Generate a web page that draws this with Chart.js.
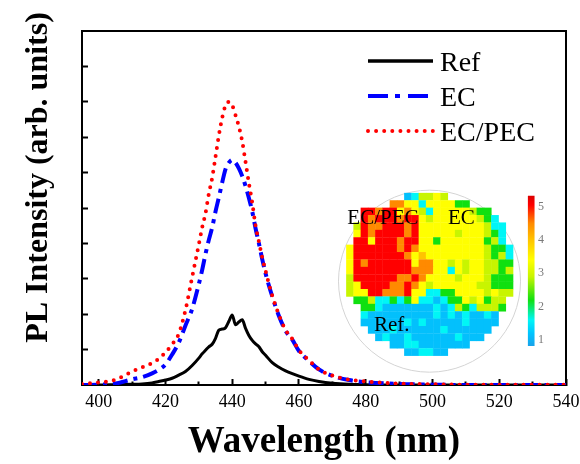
<!DOCTYPE html>
<html><head><meta charset="utf-8">
<script src="https://cdn.jsdelivr.net/npm/chart.js@4.4.1/dist/chart.umd.min.js"></script>
<style>
html,body{margin:0;padding:0;background:#fff;}
#wrap{position:relative;width:580px;height:464px;overflow:hidden;}
#main{position:absolute;left:0;top:0;}
#inset{position:absolute;left:336px;top:185px;}
</style></head><body>
<div id="wrap"><canvas id="main" width="580" height="464"></canvas><canvas id="inset" width="224" height="190"></canvas></div>
<script>
// ---------- spectra ----------
const wavelengths = [395,400,405,410,413,416,418,420,422,424,426,428,430,431,432,433,434,435,436,437,438,439,440,441,442,443,444,445,446,447,448,449,450,452,454,456,458,460,463,466,470,475,480,490,500,510,520,530,540];
const refIntensity = [0.0,0.0,0.01,0.02,0.03,0.06,0.10,0.14,0.19,0.28,0.38,0.55,0.76,0.88,0.98,1.08,1.15,1.32,1.55,1.58,1.62,1.80,1.98,1.70,1.78,1.84,1.60,1.40,1.26,1.16,1.08,0.94,0.84,0.63,0.50,0.40,0.32,0.25,0.16,0.10,0.05,0.02,0.01,0.0,0.0,0.0,0.0,0.0,0.0];
const ecIntensity = [0.0,0.01,0.04,0.16,0.22,0.33,0.43,0.58,0.86,1.20,1.68,2.15,2.85,3.25,3.70,4.10,4.45,4.90,5.30,5.72,6.10,6.28,6.36,6.28,6.12,5.90,5.62,5.28,4.90,4.42,4.00,3.55,3.15,2.50,1.95,1.53,1.28,0.96,0.68,0.44,0.26,0.14,0.08,0.03,0.01,0.0,0.0,0.0,0.0];
const ecpecIntensity = [0.03,0.07,0.15,0.38,0.50,0.62,0.74,0.92,1.15,1.45,2.12,3.05,3.97,4.45,4.85,5.40,5.85,6.45,7.05,7.55,7.90,8.00,7.90,7.62,7.30,6.88,6.30,5.70,5.15,4.50,4.05,3.60,3.22,2.52,1.98,1.55,1.30,0.98,0.70,0.44,0.27,0.15,0.10,0.04,0.02,0.01,0.01,0.01,0.01];
const seriesLabels = ['Ref','EC','EC/PEC'];
const xMajorTicks = [400,420,440,460,480,500,520,540];
const xMinorTicks = [410,430,450,470,490,510,530];
const yTickValues = [1,2,3,4,5,6,7,8,9];

// ---------- wafer map (rows top->bottom, 23 columns) ----------
const R=5.05,O=4.5,A=4.0,Y=3.4,L=2.9,G=2.2,C=1.6,B=1.15,_=null;
const waferMap = [
 [_,_,_,_,_,_,_,_,B,C,L,L,Y,L,_,_,_,_,_,_,_,_,_],
 [_,_,_,_,_,_,O,O,Y,Y,C,Y,Y,Y,Y,G,G,_,_,_,_,_,_],
 [_,_,R,R,O,R,R,Y,O,Y,L,C,Y,Y,Y,Y,Y,L,G,G,_,_,_],
 [_,_,R,O,R,R,R,O,R,R,Y,L,Y,Y,Y,Y,Y,Y,L,G,C,_,_],
 [_,L,R,O,O,R,R,R,O,R,Y,Y,Y,Y,Y,Y,Y,Y,Y,L,C,C,_],
 [_,Y,R,O,R,R,R,R,O,R,Y,Y,Y,Y,Y,L,Y,Y,Y,L,G,C,_],
 [_,R,R,Y,R,R,R,O,R,R,Y,Y,G,Y,Y,Y,Y,Y,Y,G,L,C,_],
 [Y,R,R,R,R,R,R,O,R,O,Y,Y,Y,Y,Y,Y,Y,Y,Y,L,G,G,C],
 [Y,R,R,R,R,R,R,R,O,Y,A,Y,Y,Y,Y,Y,Y,Y,Y,L,G,L,C],
 [Y,R,O,R,R,R,R,R,R,Y,O,O,Y,Y,L,Y,L,Y,Y,L,L,G,G],
 [Y,R,R,R,R,R,R,R,R,O,O,O,Y,Y,C,Y,L,Y,Y,L,L,G,L],
 [L,R,R,R,R,R,R,O,O,R,O,Y,Y,Y,Y,L,Y,Y,Y,L,G,G,G],
 [L,Y,R,R,R,R,O,O,R,O,Y,L,Y,Y,Y,Y,Y,Y,L,L,G,G,G],
 [L,Y,Y,R,R,O,O,O,R,Y,Y,C,C,G,G,Y,Y,Y,Y,L,Y,L,L],
 [_,G,G,L,C,C,G,C,G,Y,C,C,B,C,G,G,Y,L,Y,G,L,L,_],
 [_,_,G,G,C,B,B,B,B,B,B,B,C,B,C,L,G,C,L,L,L,G,_],
 [_,_,C,B,B,B,B,B,B,B,B,B,C,B,C,B,C,B,B,C,B,_,_],
 [_,_,B,B,B,B,B,B,C,B,C,B,B,B,B,B,C,B,B,B,B,_,_],
 [_,_,_,B,B,B,C,B,B,B,B,B,B,C,B,B,B,B,B,B,_,_,_],
 [_,_,_,_,B,C,B,B,C,B,B,B,B,B,B,C,B,B,B,_,_,_,_],
 [_,_,_,_,_,_,B,B,C,C,B,B,B,B,B,B,B,_,_,_,_,_,_],
 [_,_,_,_,_,_,_,_,B,B,C,C,B,B,_,_,_,_,_,_,_,_,_]
];
const colorbarTicks = [1,2,3,4,5];
const colorbarRange = [0.83,5.32];
const colorStopValues = [0.8,1.2,1.6,2.2,2.9,3.4,4.0,4.5,5.05,5.35];
const colorStopColors = ['#1aa0e8','#00c4ff','#00f6f6','#10e010','#c8f500','#ffff00','#ffc400','#ff8a00','#ff0000','#d80000'];
const insetLabels = [{text:'EC/PEC',x:-0.37,y:3.69},{text:'EC',x:13.52,y:3.69},{text:'Ref.',x:3.31,y:18.11}];

const SERIF = "'Liberation Serif','Times New Roman',Times,serif";
Chart.defaults.font.family = SERIF;

function hexToRgb(h){return [parseInt(h.slice(1,3),16),parseInt(h.slice(3,5),16),parseInt(h.slice(5,7),16)];}
function colorFor(v){
  if(v==null) return 'rgba(0,0,0,0)';
  const n = colorStopValues.length;
  if(v<=colorStopValues[0]) return colorStopColors[0];
  if(v>=colorStopValues[n-1]) return colorStopColors[n-1];
  for(let i=0;i<n-1;i++){
    const a=colorStopValues[i], b=colorStopValues[i+1];
    if(v>=a && v<=b){
      const t=(v-a)/(b-a), c1=hexToRgb(colorStopColors[i]), c2=hexToRgb(colorStopColors[i+1]);
      const c=c1.map((x,k)=>Math.round(x+(c2[k]-x)*t));
      return 'rgb('+c.join(',')+')';
    }
  }
  return colorStopColors[n-1];
}

const toXY = arr => wavelengths.map((w,i)=>({x:w,y:arr[i]}));

// legend & y-title plugin
const decorPlugin = {
  id:'decor',
  afterDraw(chart){
    const ctx = chart.ctx;
    ctx.save();
    const styles = [
      {color:'#000000', width:3.5, dash:[], cap:'butt'},
      {color:'#0000ff', width:4, dash:[20,7,5,8], cap:'butt'},
      {color:'#ff0000', width:4, dash:[0,8.1], cap:'round'}
    ];
    seriesLabels.forEach((lab,i)=>{
      const yb = 70.5 + i*35;
      const yl = yb - 9.5;
      const s = styles[i];
      ctx.beginPath();
      ctx.setLineDash(s.dash);
      ctx.lineCap = s.cap;
      ctx.lineWidth = s.width;
      ctx.strokeStyle = s.color;
      ctx.moveTo(368, yl); ctx.lineTo(433, yl);
      ctx.stroke();
      ctx.setLineDash([]);
      ctx.fillStyle = '#000';
      ctx.font = '28px ' + SERIF;
      ctx.textAlign = 'left';
      ctx.textBaseline = 'alphabetic';
      ctx.fillText(lab, 440, yb);
    });
    ctx.translate(39, 177.5);
    ctx.rotate(-Math.PI/2);
    ctx.font = 'bold 32px ' + SERIF;
    ctx.textAlign = 'center';
    ctx.textBaseline = 'middle';
    ctx.fillStyle = '#000';
    ctx.fillText('PL Intensity (arb. units)', 0, 0);
    ctx.restore();
  }
};

new Chart(document.getElementById('main'), {
  type:'line',
  data:{datasets:[
    {label:seriesLabels[0], data:toXY(refIntensity), xAxisID:'x', yAxisID:'y', borderColor:'#000', borderWidth:3, pointRadius:0, cubicInterpolationMode:'monotone', fill:false, order:3},
    {label:seriesLabels[1], data:toXY(ecIntensity), xAxisID:'x', yAxisID:'y', borderColor:'#0000ff', borderWidth:4, borderDash:[15,6,4,6], pointRadius:0, cubicInterpolationMode:'monotone', fill:false, order:2},
    {label:seriesLabels[2], data:toXY(ecpecIntensity), xAxisID:'x', yAxisID:'y', borderColor:'#ff0000', borderWidth:4, borderDash:[0,8], borderCapStyle:'round', pointRadius:0, cubicInterpolationMode:'monotone', fill:false, order:1}
  ]},
  options:{
    responsive:false, animation:false, events:[],
    layout:{padding:0, autoPadding:false},
    plugins:{legend:{display:false}, tooltip:{enabled:false}},
    scales:{
      x:{type:'linear', position:'bottom', min:395, max:540, weight:1,
        afterBuildTicks:s=>{s.ticks = xMajorTicks.map(v=>({value:v}));},
        afterFit:s=>{s.height=79; s.paddingLeft=0; s.paddingRight=0;},
        grid:{display:true, drawOnChartArea:false, drawTicks:true, tickLength:-6, tickWidth:2, tickColor:'#000'},
        border:{display:true, color:'#000', width:2},
        ticks:{color:'#000', font:{family:SERIF, size:18}, padding:12, maxRotation:0, autoSkip:false},
        title:{display:true, text:'Wavelength (nm)', color:'#000', font:{family:SERIF, size:37, weight:'bold', lineHeight:1}, padding:{top:0,bottom:3}}
      },
      xMinor:{type:'linear', position:'bottom', min:395, max:540, weight:0,
        afterBuildTicks:s=>{s.ticks = xMinorTicks.map(v=>({value:v}));},
        afterFit:s=>{s.height=0; s.paddingLeft=0; s.paddingRight=0;},
        grid:{display:true, drawOnChartArea:false, drawTicks:true, tickLength:-3.5, tickWidth:2, tickColor:'#000'},
        border:{display:false},
        ticks:{display:false}
      },
      xTop:{type:'linear', position:'top', min:395, max:540,
        afterFit:s=>{s.height=31; s.paddingLeft=0; s.paddingRight=0;},
        grid:{display:false, drawTicks:false}, border:{display:true, color:'#000', width:2}, ticks:{display:false}
      },
      y:{type:'linear', position:'left', min:0, max:10,
        afterBuildTicks:s=>{s.ticks = yTickValues.map(v=>({value:v}));},
        afterFit:s=>{s.width=82; s.paddingTop=0; s.paddingBottom=0;},
        grid:{display:true, drawOnChartArea:false, drawTicks:true, tickLength:-6, tickWidth:2, tickColor:'#000'},
        border:{display:true, color:'#000', width:2},
        ticks:{display:false}
      },
      yRight:{type:'linear', position:'right', min:0, max:10,
        afterFit:s=>{s.width=14; s.paddingTop=0; s.paddingBottom=0;},
        grid:{display:false, drawTicks:false}, border:{display:true, color:'#000', width:2}, ticks:{display:false}
      }
    }
  },
  plugins:[decorPlugin]
});

// ---------- inset ----------
const cells = [];
waferMap.forEach((row,r)=>row.forEach((v,c)=>{ if(v!=null) cells.push({x:c, y:r, v:v}); }));

const insetLabelPlugin = {
  id:'insetLabels',
  afterDatasetsDraw(chart){
    const ctx = chart.ctx, xs = chart.scales.x, ys = chart.scales.y;
    ctx.save();
    ctx.font = '21px ' + SERIF;
    ctx.fillStyle = '#000';
    ctx.textAlign = 'left';
    ctx.textBaseline = 'alphabetic';
    insetLabels.forEach(l=>ctx.fillText(l.text, xs.getPixelForValue(l.x), ys.getPixelForValue(l.y)));
    ctx.restore();
  }
};

new Chart(document.getElementById('inset'), {
  type:'scatter',
  data:{datasets:[
    {type:'scatter', label:'outline', data:[{x:10.97, y:11.42}], xAxisID:'x', yAxisID:'y', pointStyle:'circle', pointRadius:91, backgroundColor:'rgba(0,0,0,0)', borderColor:'#d4d4d4', borderWidth:1, order:3, clip:false},
    {type:'scatter', label:'wafer', data:cells, xAxisID:'x', yAxisID:'y', pointStyle:'rect',
      pointRadius:ctx=>{const ch=ctx.chart; const xs=ch.scales.x, ys=ch.scales.y; const s=Math.max(Math.abs(xs.getPixelForValue(1)-xs.getPixelForValue(0)), Math.abs(ys.getPixelForValue(1)-ys.getPixelForValue(0))); return (s+0.3)/Math.SQRT2;},
      backgroundColor:ctx=>colorFor(ctx.raw && ctx.raw.v), borderWidth:0, order:2},
    {type:'bar', label:'colorbar', data:[{x:25, y:colorbarRange}], xAxisID:'x', yAxisID:'yc', barThickness:6, borderWidth:0, order:1,
      backgroundColor:ctx=>{
        const ch=ctx.chart, s=ch.scales.yc;
        if(!s || !ch.chartArea) return '#ff0000';
        const g = ch.ctx.createLinearGradient(0, s.getPixelForValue(colorbarRange[0]), 0, s.getPixelForValue(colorbarRange[1]));
        colorStopValues.forEach((v,i)=>{
          const t=(v-colorbarRange[0])/(colorbarRange[1]-colorbarRange[0]);
          if(t>=0 && t<=1) g.addColorStop(t, colorStopColors[i]);
        });
        g.addColorStop(0, colorFor(colorbarRange[0]));
        g.addColorStop(1, colorFor(colorbarRange[1]));
        return g;
      }}
  ]},
  options:{
    responsive:false, animation:false, events:[],
    layout:{padding:0, autoPadding:false},
    plugins:{legend:{display:false}, tooltip:{enabled:false}},
    scales:{
      x:{type:'linear', min:-1.93, max:25.66, display:false, offset:false, grid:{offset:false}},
      y:{type:'linear', min:-1.58, max:24.1, reverse:true, display:false, offset:false},
      yc:{type:'linear', position:'right', min:-0.05, max:5.65, offset:false,
        afterBuildTicks:s=>{s.ticks = colorbarTicks.map(v=>({value:v}));},
        afterFit:s=>{s.width=24; s.paddingTop=0; s.paddingBottom=0;},
        grid:{display:false, drawTicks:false}, border:{display:false},
        ticks:{color:'#7a7a7a', font:{family:SERIF, size:12}, padding:2}
      }
    }
  },
  plugins:[insetLabelPlugin]
});
</script>
</body></html>
